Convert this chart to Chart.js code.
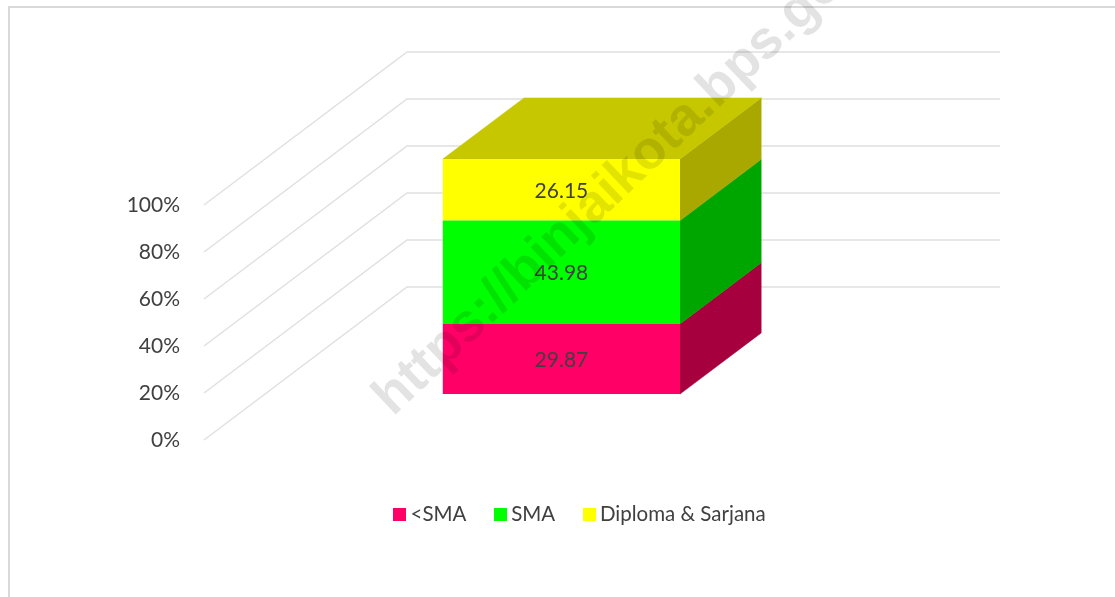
<!DOCTYPE html>
<html>
<head>
<meta charset="utf-8">
<style>html,body{margin:0;padding:0;background:#fff}#w{width:1115px;height:597px;position:relative}canvas{display:block}</style>
<script src="https://cdn.jsdelivr.net/npm/chart.js@4/dist/chart.umd.min.js"></script>
</head>
<body>
<div id="w"><canvas id="c" width="1115" height="597"></canvas></div>
<script>
const categories = ['2020'];
const seriesNames = ['<SMA', 'SMA', 'Diploma & Sarjana'];
const lessThanSMA = [29.87];
const sma = [43.98];
const diplomaSarjana = [26.15];
const frontColors = ['#ff0066', '#00ff00', '#ffff00'];
const sideColors = ['#a6003f', '#00a600', '#a8a800'];
const topColor = '#c7c700';
const gridColor = '#e0e0e0';
const textColor = '#404040';
const FONT = 'Lato, sans-serif';
const WALL = {dx: 203, dy: -153};
const FRONT = 0.3, BAR_DEPTH = 0.4;

function swatch(color) {
  const s = document.createElement('canvas');
  s.width = 13; s.height = 13;
  const g = s.getContext('2d');
  g.fillStyle = color; g.fillRect(0, 0, 13, 13);
  return s;
}
function poly(ctx, pts, color) {
  ctx.beginPath();
  pts.forEach((p, i) => i ? ctx.lineTo(p[0], p[1]) : ctx.moveTo(p[0], p[1]));
  ctx.closePath();
  ctx.fillStyle = color; ctx.fill();
  ctx.strokeStyle = color; ctx.lineWidth = 0.5; ctx.stroke();
}
const scene = {
  id: 'scene',
  beforeDraw(chart) {
    const ctx = chart.ctx;
    ctx.save();
    ctx.fillStyle = '#fff'; ctx.fillRect(0, 0, chart.width, chart.height);
    ctx.strokeStyle = '#d9d9d9'; ctx.lineWidth = 2;
    ctx.beginPath(); ctx.moveTo(9, chart.height); ctx.lineTo(9, 7); ctx.lineTo(chart.width, 7); ctx.stroke();
    ctx.restore();
  },
  afterLayout(chart) {
    const l = chart.legend;
    if (l) { const h = l.height; l.left = 0; l.right = 1165; l.top = 471; l.bottom = l.top + h; }
  },
  beforeDatasetsDraw(chart) {
    const ctx = chart.ctx, y = chart.scales.y, a = chart.chartArea;
    ctx.save();
    ctx.strokeStyle = gridColor; ctx.lineWidth = 1.4;
    y.ticks.forEach((t, i) => {
      const py = y.getPixelForTick(i);
      ctx.beginPath();
      ctx.moveTo(a.left, py);
      ctx.lineTo(a.left + WALL.dx, py + WALL.dy);
      ctx.lineTo(a.right + WALL.dx, py + WALL.dy);
      ctx.stroke();
    });
    ctx.restore();
    ctx.save();
    ctx.translate(WALL.dx * FRONT, WALL.dy * FRONT);
    const ddx = WALL.dx * BAR_DEPTH, ddy = WALL.dy * BAR_DEPTH;
    chart.data.datasets.forEach((d, i) => {
      const b = chart.getDatasetMeta(i).data[0];
      const r = b.x + b.width / 2, l = b.x - b.width / 2;
      poly(ctx, [[r, b.base], [r + ddx, b.base + ddy], [r + ddx, b.y + ddy], [r, b.y]], sideColors[i]);
      if (i === chart.data.datasets.length - 1) {
        poly(ctx, [[l, b.y], [l + ddx, b.y + ddy], [r + ddx, b.y + ddy], [r, b.y]], topColor);
      }
    });
  },
  afterDatasetsDraw(chart) {
    const ctx = chart.ctx;
    ctx.font = '21px ' + FONT;
    ctx.fillStyle = textColor;
    ctx.textAlign = 'center';
    ctx.textBaseline = 'middle';
    chart.data.datasets.forEach((d, i) => {
      const b = chart.getDatasetMeta(i).data[0];
      ctx.fillText(d.data[0].toFixed(2), b.x, (b.y + b.base) / 2 + 1);
    });
    ctx.restore();
  },
  afterDraw(chart) {
    const ctx = chart.ctx;
    ctx.save();
    ctx.translate(393, 417);
    ctx.rotate(-43.5 * Math.PI / 180);
    ctx.font = 'bold 54px "Liberation Sans", sans-serif';
    ctx.fillStyle = 'rgba(0,0,0,0.11)';
    ctx.textAlign = 'left';
    ctx.textBaseline = 'alphabetic';
    ctx.fillText('https://binjaikota.bps.go.id', 0, 0);
    ctx.restore();
  }
};
new Chart(document.getElementById('c'), {
  type: 'bar',
  data: {
    labels: categories,
    datasets: [
      {label: seriesNames[0], data: lessThanSMA, backgroundColor: frontColors[0]},
      {label: seriesNames[1], data: sma, backgroundColor: frontColors[1]},
      {label: seriesNames[2], data: diplomaSarjana, backgroundColor: frontColors[2]}
    ].map(d => Object.assign(d, {barPercentage: 0.4, categoryPercentage: 1, borderWidth: 0, clip: false}))
  },
  options: {
    responsive: false,
    animation: false,
    layout: {padding: {left: 0, top: 205, right: 318, bottom: 93}},
    scales: {
      x: {stacked: true, display: false},
      y: {
        stacked: true, min: 0, max: 100,
        afterFit(s) { s.width = 204; },
        grid: {display: false},
        border: {display: false},
        ticks: {stepSize: 20, padding: 16, color: textColor, font: {family: FONT, size: 21}, callback: v => v + '%'}
      }
    },
    plugins: {
      tooltip: {enabled: false},
      title: {display: false},
      legend: {
        display: true,
        position: 'bottom',
        labels: {
          usePointStyle: true,
          pointStyleWidth: 1,
          padding: 33.5,
          color: textColor,
          font: {family: FONT, size: 20.5},
          generateLabels: c => c.data.datasets.map((d, i) => ({
            text: d.label, fillStyle: frontColors[i], strokeStyle: frontColors[i],
            pointStyle: swatch(frontColors[i]), lineWidth: 0, datasetIndex: i, fontColor: textColor
          }))
        }
      }
    }
  },
  plugins: [scene]
});
</script>
</body>
</html>
